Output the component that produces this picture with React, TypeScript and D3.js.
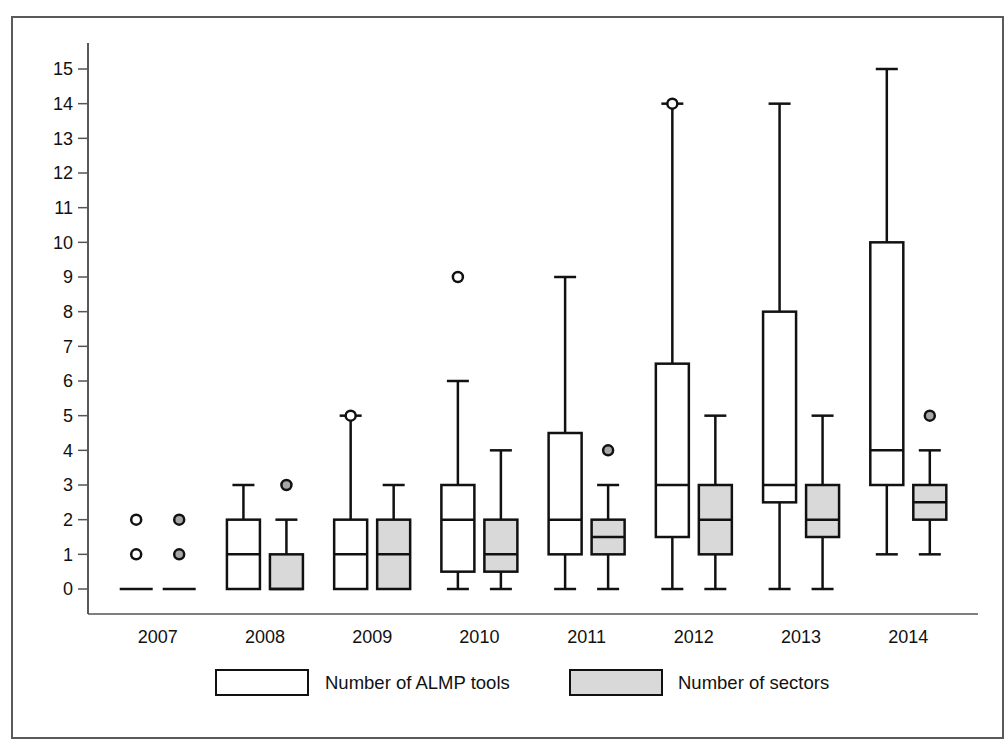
import React from 'react';
import * as d3 from 'd3';

const years = ['2007', '2008', '2009', '2010', '2011', '2012', '2013', '2014'];

// [min, q1, median, q3, max] per year
const toolsStats = [
  [0, 0, 0, 0, 0],
  [0, 0, 1, 2, 3],
  [0, 0, 1, 2, 5],
  [0, 0.5, 2, 3, 6],
  [0, 1, 2, 4.5, 9],
  [0, 1.5, 3, 6.5, 14],
  [0, 2.5, 3, 8, 14],
  [1, 3, 4, 10, 15],
];
const toolsOutliers = [[1, 2], [], [5], [9], [], [14], [], []];

const sectorStats = [
  [0, 0, 0, 0, 0],
  [0, 0, 0, 1, 2],
  [0, 0, 1, 2, 3],
  [0, 0.5, 1, 2, 4],
  [0, 1, 1.5, 2, 3],
  [0, 1, 2, 3, 5],
  [0, 1.5, 2, 3, 5],
  [1, 2, 2.5, 3, 4],
];
const sectorOutliers = [[1, 2], [3], [], [], [4], [], [], [5]];

const yTicks = d3.range(0, 16);

const font = '"Liberation Sans", Arial, sans-serif';

const W = 1005;
const H = 740;
const axisLeft = 88;
const axisRight = 978;
const axisTop = 43;
const axisBottom = 614;

const App = () => {
  const x = d3.scalePoint<string>().domain(years).range([axisLeft, axisRight]).padding(0.65);
  const y = d3.scaleLinear().domain([0, 15]).range([589, 69]);

  const boxW = 33;
  const capW = 22;
  const offset = 21.5;

  const series = [
    { stats: toolsStats, outliers: toolsOutliers, fill: '#ffffff', dot: '#ffffff', dx: -offset },
    { stats: sectorStats, outliers: sectorOutliers, fill: '#d9d9d9', dot: '#a6a6a6', dx: offset },
  ];

  return (
    <svg width={W} height={H} style={{ position: 'absolute', left: 0, top: 0, display: 'block' }} fontFamily={font}>
      <rect x={0} y={0} width={W} height={H} fill="#fff" />
      <rect x={12} y={17} width={991} height={721} fill="none" stroke="#5a5a5a" strokeWidth={2} />

      {/* axes */}
      <line x1={axisLeft} x2={axisLeft} y1={axisTop} y2={axisBottom} stroke="#222" strokeWidth={1.5} />
      <line x1={axisLeft} x2={axisRight} y1={axisBottom} y2={axisBottom} stroke="#555" strokeWidth={1.5} />
      {yTicks.map(t => (
        <g key={t}>
          <line x1={axisLeft - 10} x2={axisLeft} y1={y(t)} y2={y(t)} stroke="#555" strokeWidth={1.5} />
          <text x={axisLeft - 15} y={y(t)} dy="0.35em" textAnchor="end" fontSize={18} fill="#111">{t}</text>
        </g>
      ))}
      {years.map(yr => (
        <text key={yr} x={x(yr)} y={643} textAnchor="middle" fontSize={18} fill="#111">{yr}</text>
      ))}

      {/* boxes */}
      {series.map((s, si) =>
        years.map((yr, i) => {
          const cx = (x(yr) as number) + s.dx;
          const [mn, q1, md, q3, mx] = s.stats[i];
          return (
            <g key={si + '-' + yr} stroke="#111" strokeWidth={2.5}>
              {mx > q3 && <line x1={cx} x2={cx} y1={y(q3)} y2={y(mx)} />}
              {mn < q1 && <line x1={cx} x2={cx} y1={y(q1)} y2={y(mn)} />}
              {mx > q3 && <line x1={cx - capW / 2} x2={cx + capW / 2} y1={y(mx)} y2={y(mx)} />}
              {mn < q1 && <line x1={cx - capW / 2} x2={cx + capW / 2} y1={y(mn)} y2={y(mn)} />}
              {q3 > q1 && (
                <rect x={cx - boxW / 2} y={y(q3)} width={boxW} height={y(q1) - y(q3)} fill={s.fill} />
              )}
              <line x1={cx - boxW / 2} x2={cx + boxW / 2} y1={y(md)} y2={y(md)} />
              {s.outliers[i].map(o => (
                <circle key={o} cx={cx} cy={y(o)} r={5} fill={s.dot} />
              ))}
            </g>
          );
        })
      )}

      {/* legend */}
      <rect x={216} y={670} width={92} height={25} fill="#fff" stroke="#111" strokeWidth={2} />
      <text x={325} y={682.5} dy="0.35em" fontSize={18.5} fill="#111">Number of ALMP tools</text>
      <rect x={570} y={670} width={92} height={25} fill="#d9d9d9" stroke="#111" strokeWidth={2} />
      <text x={678} y={682.5} dy="0.35em" fontSize={18.5} fill="#111">Number of sectors</text>
    </svg>
  );
};

export default App;
